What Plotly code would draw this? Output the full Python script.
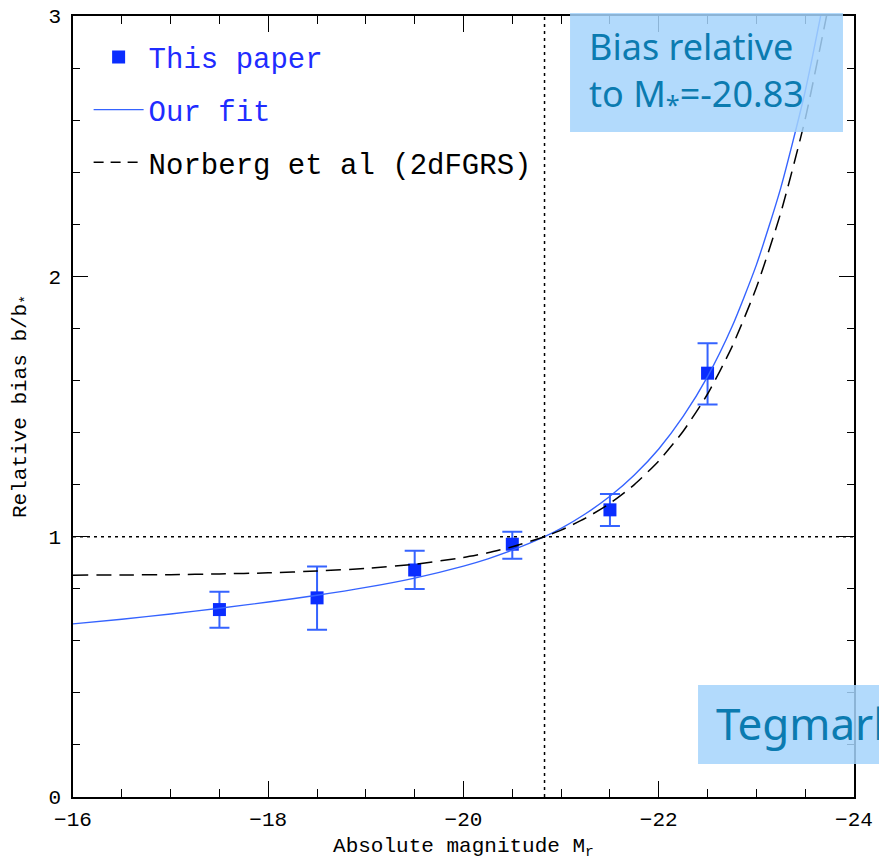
import plotly.graph_objects as go

# ---------------- data ----------------
M_STAR = -20.83

M_DATA = [-17.5, -18.5, -19.5, -20.5, -21.5, -22.5]
B_DATA = [0.720, 0.765, 0.872, 0.971, 1.103, 1.628]
ERR_PLUS = [0.068, 0.120, 0.074, 0.048, 0.061, 0.115]
ERR_MINUS = [0.070, 0.123, 0.073, 0.056, 0.062, 0.120]

M_CURVE = [-16, -16.5, -17, -17.5, -18, -18.5, -19, -19.5, -20, -20.25, -20.5,
           -20.83, -21, -21.25, -21.5, -21.75, -22, -22.25, -22.5, -22.75, -23,
           -23.25, -23.5, -23.75]
FIT = [0.665, 0.683, 0.703, 0.725, 0.749, 0.775, 0.805, 0.841, 0.887, 0.915,
       0.948, 1.000, 1.032, 1.088, 1.155, 1.237, 1.337, 1.462, 1.615, 1.806,
       2.044, 2.340, 2.711, 3.175]
NORBERG = [0.852, 0.853, 0.854, 0.857, 0.861, 0.868, 0.878, 0.894, 0.920,
           0.938, 0.961, 1.000, 1.025, 1.071, 1.128, 1.200, 1.291, 1.405,
           1.548, 1.729, 1.957, 2.244, 2.604, 3.059]

X_RANGE = [-16, -24]
Y_RANGE = [0, 3]

# ---------------- styles ----------------
BLUE_MARK = "#0a2dff"
BLUE_LINE = "#3563ff"
MONO = "Liberation Mono, Courier New, monospace"
SANS = "Noto Sans, Open Sans, sans-serif"
BOX_TEXT = "#0b7bb0"
BOX_FILL = "rgba(164,211,251,0.85)"

fig = go.Figure()

fig.add_trace(go.Scatter(
    x=M_DATA, y=B_DATA, mode="markers",
    name="<span style='color:#1f2cff'>This paper</span>",
    legendgroup="a",
    marker=dict(symbol="square", size=13, color=BLUE_MARK),
    error_y=dict(type="data", symmetric=False, array=ERR_PLUS,
                 arrayminus=ERR_MINUS, color=BLUE_LINE, thickness=2, width=10),
))
fig.add_trace(go.Scatter(
    x=M_CURVE, y=FIT, mode="lines",
    name="<span style='color:#1f2cff'>Our fit</span>",
    legendgroup="b",
    line=dict(color=BLUE_LINE, width=1.4, shape="spline", smoothing=0.6),
))
fig.add_trace(go.Scatter(
    x=M_CURVE, y=NORBERG, mode="lines",
    name="Norberg et al (2dFGRS)",
    legendgroup="c", showlegend=False,
    line=dict(color="black", width=1.5, dash="15px,8px", shape="spline", smoothing=0.6),
))
# legend entry for the Norberg curve (shorter dashes, as in the key)
fig.add_trace(go.Scatter(
    x=[None], y=[None], mode="lines",
    name="Norberg et al (2dFGRS)",
    legendgroup="c",
    line=dict(color="black", width=1.5, dash="10px,7px"),
))

# dotted reference lines
fig.add_shape(type="line", x0=M_STAR, x1=M_STAR, y0=Y_RANGE[0], y1=Y_RANGE[1],
              xref="x", yref="y", line=dict(color="black", width=1.5, dash="3px,4px"))
fig.add_shape(type="line", x0=X_RANGE[0], x1=X_RANGE[1], y0=1, y1=1,
              xref="x", yref="y", line=dict(color="black", width=1.5, dash="3px,4px"))

# overlay boxes
fig.add_shape(type="rect", xref="paper", yref="paper",
              x0=0.6364, x1=0.9859, y0=0.8515, y1=1.0038,
              fillcolor=BOX_FILL, line=dict(width=0), layer="above")
fig.add_annotation(xref="paper", yref="paper", x=0.658, y=0.995,
                   xanchor="left", yanchor="top", align="left", showarrow=False,
                   text="Bias relative<br>to M<sub>*</sub>=-20.83",
                   font=dict(family=SANS, size=36, color=BOX_TEXT))
fig.add_shape(type="rect", xref="paper", yref="paper",
              x0=0.8003, x1=1.08, y0=0.0423, y1=0.1434,
              fillcolor=BOX_FILL, line=dict(width=0), layer="above")
fig.add_annotation(xref="paper", yref="paper", x=0.8205, y=0.095,
                   xanchor="left", yanchor="middle", align="left", showarrow=False,
                   text="Tegmark et al.",
                   font=dict(family=SANS, size=44, color=BOX_TEXT))

axis_common = dict(
    showgrid=False, zeroline=False, showline=True, linecolor="black", linewidth=1.6,
    mirror="allticks", ticks="inside", tickcolor="black", tickwidth=1.4,
    tickfont=dict(family=MONO, size=21, color="black"), automargin=False,
)

fig.update_xaxes(
    range=X_RANGE, dtick=2, ticklen=16, ticklabelstandoff=2,
    minor=dict(dtick=0.5, ticks="inside", ticklen=8, tickcolor="black", tickwidth=1.4),
    title=dict(text="Absolute magnitude M<sub>r</sub>", standoff=6,
               font=dict(family=MONO, size=21, color="black")),
    **axis_common,
)
fig.update_yaxes(
    range=Y_RANGE, dtick=1, ticklen=15, ticklabelstandoff=6,
    minor=dict(dtick=0.2, ticks="inside", ticklen=7, tickcolor="black", tickwidth=1.4),
    title=dict(text="Relative bias b/b<sub>*</sub>", standoff=16,
               font=dict(family=MONO, size=21, color="black")),
    **axis_common,
)

fig.update_layout(
    width=879, height=860,
    margin=dict(l=73, r=25, t=16, b=63),
    plot_bgcolor="white", paper_bgcolor="white",
    showlegend=True,
    legend=dict(x=0.020, y=0.980, xanchor="left", yanchor="top",
                bgcolor="rgba(0,0,0,0)", borderwidth=0,
                font=dict(family=MONO, size=29, color="black"),
                traceorder="grouped", tracegroupgap=12, itemwidth=50),
)

fig.write_html("out.html")
